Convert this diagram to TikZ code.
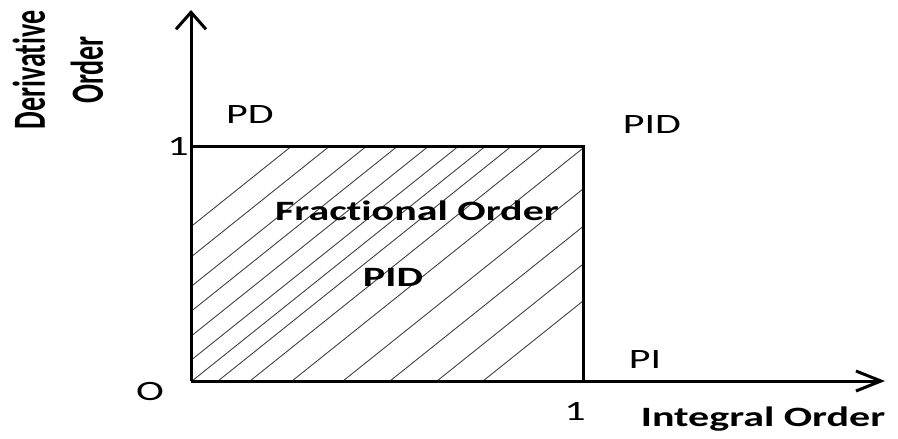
\documentclass[tikz,border=0pt]{standalone}
\usepackage{fontspec}
\setmainfont{Carlito}
\newfontfamily\axfont[FakeStretch=1.5, Ligatures=NoCommon]{Carlito}
\newfontfamily\rotfont[FakeStretch=0.61, Ligatures=NoCommon]{Carlito}
\usetikzlibrary{arrows.meta}

\begin{document}
\begin{tikzpicture}[x=1pt, y=-1pt,
    axs/.style={line width=3pt},
    hatch/.style={line width=0.9pt, black!72},
    lbl/.style={font=\axfont\fontsize{28}{32}\selectfont, inner sep=0pt},
    ttl/.style={font=\axfont\bfseries\fontsize{28}{32}\selectfont, inner sep=0pt},
    rot/.style={font=\rotfont\bfseries\fontsize{46}{52}\selectfont, inner sep=0pt, rotate=90}
  ]
  \useasboundingbox (0,0) rectangle (898,439);

  \coordinate (o) at (191,381);
  \coordinate (ytip) at (191,10);
  \coordinate (xtip) at (885,381);
  \coordinate (tl) at (191,146);
  \coordinate (tr) at (583,146);
  \coordinate (br) at (583,381);

  % hatched region
  \begin{scope}
    \clip (o) rectangle (tr);
    \foreach \b in {-2,36,73,104,135,165,192,218,250,292,343,390,437,483}
      \draw[hatch] (\b,381) -- ++(330,-264);
  \end{scope}

  \draw[axs] (tl) -- (tr) -- (br);
  \draw[axs, -{Straight Barb[length=17pt, width=30pt]}] (o) -- (ytip);
  \draw[axs, -{Straight Barb[length=25pt, width=20pt]}] (o) -- (xtip);

  % Annotations
  \node[rot] (dlab) at (29,70) {Derivative};
  \node[rot] (olab) at (87,70) {Order};
  \node[ttl] (ilab) at (763,419) {Integral Order};
  \node[lbl] (yone) at (178,146) {1};
  \node[lbl] (xone) at (575,411) {1};
  \node[lbl] (orig) at (150,392) {O};
  \node[lbl] (pd) at (250,115) {PD};
  \node[lbl] (pidt) at (652,125) {PID};
  \node[lbl] (pi) at (645,360) {PI};
  \node[ttl] (frac) at (417,211) {Fractional Order};
  \node[ttl] (pidc) at (393,277) {PID};
\end{tikzpicture}
\end{document}
